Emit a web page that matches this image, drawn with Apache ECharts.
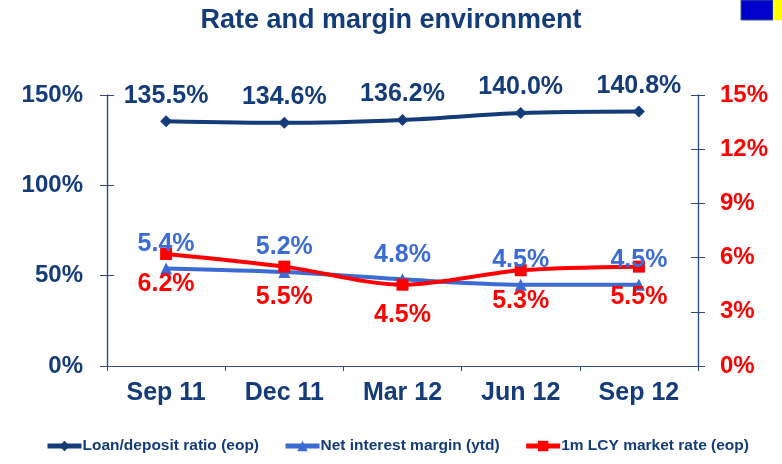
<!DOCTYPE html>
<html>
<head>
<meta charset="utf-8">
<script src="https://cdn.jsdelivr.net/npm/echarts@6/dist/echarts.min.js"></script>
<style>
  html, body { margin: 0; padding: 0; background: #fff; }
  #chart { width: 782px; height: 464px; }
</style>
</head>
<body>
<div id="chart"></div>
<script>
// Quarter-end categories
const quarters = ['Sep 11', 'Dec 11', 'Mar 12', 'Jun 12', 'Sep 12'];
// Loan/deposit ratio (eop), %
const loanDeposit = [135.5, 134.6, 136.2, 140.0, 140.8];
// Net interest margin (ytd), %
const netInterestMargin = [5.4, 5.2, 4.8, 4.5, 4.5];
// 1m LCY market rate (eop), %
const marketRate = [6.2, 5.5, 4.5, 5.3, 5.5];

const navy = '#133C78';
const blue = '#3A6CD4';
const red = '#FF0000';
const axisColor = '#2E4C80';
const font = '"Liberation Sans", Arial, sans-serif';

const chart = echarts.init(document.getElementById('chart'));

const axisBase = {
  type: 'value',
  splitLine: { show: false },
  axisLine: { show: true, lineStyle: { color: axisColor, width: 1.2 } }
};

const pct = p => p.value.toFixed(1) + '%';

chart.setOption({
  animation: false,
  title: {
    text: 'Rate and margin environment',
    left: 'center',
    top: 2,
    textStyle: { fontFamily: font, fontSize: 27, fontWeight: 'bold', color: navy }
  },
  graphic: [
    { type: 'rect', shape: { x: 741, y: 0, width: 32, height: 20 }, style: { fill: '#0000CC', stroke: '#3B5E85', lineWidth: 1 } },
    { type: 'rect', shape: { x: 773, y: 0, width: 9, height: 20 }, style: { fill: '#FFFF00' } }
  ],
  legend: {
    bottom: 5,
    left: 40,
    itemGap: 24,
    itemWidth: 34,
    itemHeight: 13,
    lineStyle: { width: 5 },
    textStyle: { fontFamily: font, fontSize: 15.5, fontWeight: 'bold', color: navy, padding: [0, 0, 0, -4] },
    data: ['Loan/deposit ratio (eop)', 'Net interest margin (ytd)', '1m LCY market rate (eop)']
  },
  grid: { left: 107, right: 84, top: 95, bottom: 98 },
  xAxis: {
    type: 'category',
    data: quarters,
    boundaryGap: true,
    axisLine: { lineStyle: { color: axisColor, width: 1.2 } },
    axisTick: { show: true, length: 5, lineStyle: { color: axisColor } },
    axisLabel: { margin: 15, fontFamily: font, fontSize: 25, fontWeight: 'bold', color: navy }
  },
  yAxis: [
    Object.assign({}, axisBase, {
      position: 'left', min: 0, max: 150, interval: 50,
      axisTick: { show: true, length: 7, lineStyle: { color: axisColor } },
      axisLabel: { margin: 24, fontFamily: font, fontSize: 24, fontWeight: 'bold', color: navy, formatter: '{value}%' }
    }),
    Object.assign({}, axisBase, {
      position: 'right', min: 0, max: 15, interval: 3,
      axisTick: { show: true, length: 7, lineStyle: { color: axisColor } },
      axisLabel: { margin: 22, fontFamily: font, fontSize: 24, fontWeight: 'bold', color: red, formatter: '{value}%' }
    }),
    // inner halves of the crossing tick marks
    Object.assign({}, axisBase, {
      position: 'left', min: 0, max: 150, interval: 50,
      axisTick: { show: true, inside: true, length: 7, lineStyle: { color: axisColor } },
      axisLabel: { show: false }
    }),
    Object.assign({}, axisBase, {
      position: 'right', min: 0, max: 15, interval: 3,
      axisTick: { show: true, inside: true, length: 7, lineStyle: { color: axisColor } },
      axisLabel: { show: false }
    })
  ],
  series: [
    {
      name: 'Loan/deposit ratio (eop)',
      type: 'line',
      yAxisIndex: 0,
      data: loanDeposit,
      smooth: 0.3,
      symbol: 'diamond',
      symbolSize: 12,
      lineStyle: { color: navy, width: 4 },
      itemStyle: { color: navy },
      label: {
        show: true, position: 'top', distance: 7,
        fontFamily: font, fontSize: 25, fontWeight: 'bold', color: navy,
        formatter: pct
      }
    },
    {
      name: 'Net interest margin (ytd)',
      type: 'line',
      yAxisIndex: 1,
      data: netInterestMargin,
      smooth: 0.3,
      symbol: 'triangle',
      symbolSize: 12,
      lineStyle: { color: blue, width: 4 },
      itemStyle: { color: blue },
      label: {
        show: true, position: 'top', distance: 6,
        fontFamily: font, fontSize: 25, fontWeight: 'bold', color: blue,
        formatter: pct
      }
    },
    {
      name: '1m LCY market rate (eop)',
      type: 'line',
      yAxisIndex: 1,
      data: marketRate,
      smooth: 0.3,
      symbol: 'rect',
      symbolSize: 12,
      lineStyle: { color: red, width: 4 },
      itemStyle: { color: red },
      label: {
        show: true, position: 'bottom', distance: 12,
        fontFamily: font, fontSize: 25, fontWeight: 'bold', color: red,
        formatter: pct
      }
    }
  ]
});
</script>
</body>
</html>
